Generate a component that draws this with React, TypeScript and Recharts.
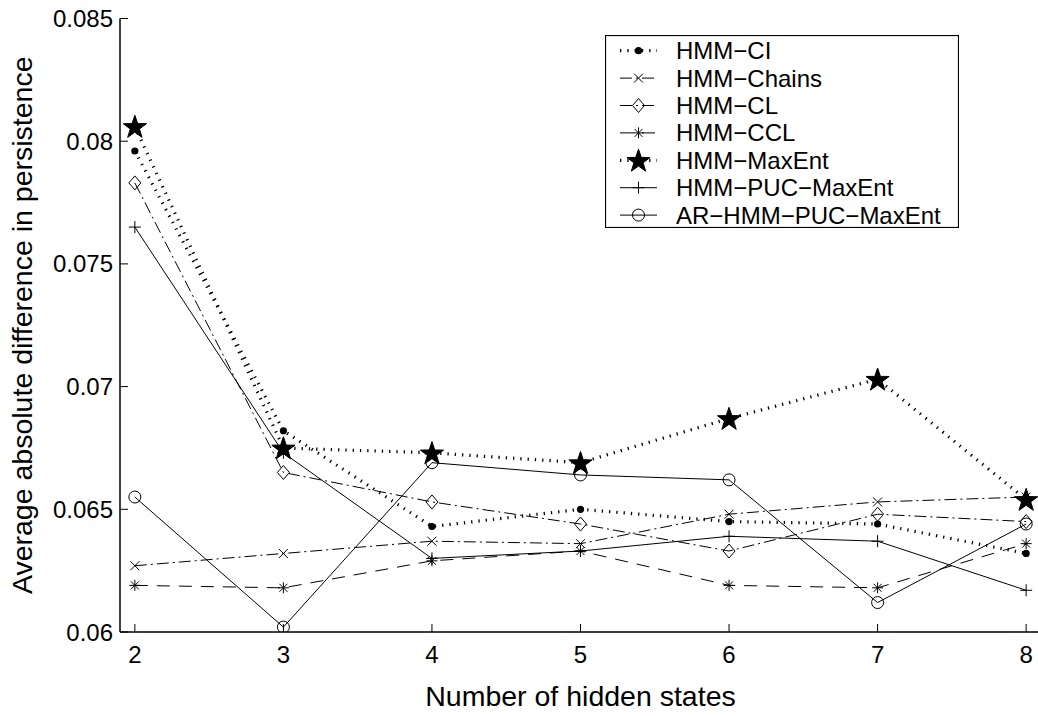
import React from 'react';
import { LineChart, Line, XAxis, YAxis, Legend } from 'recharts';

// ---------- data ----------
const states = [2, 3, 4, 5, 6, 7, 8];
const xTickLabels = ['2', '3', '4', '5', '6', '7', '8'];
const yTicks = [0.06, 0.065, 0.07, 0.075, 0.08, 0.085];
const yTickLabels = ['0.06', '0.065', '0.07', '0.075', '0.08', '0.085'];

const hmmCI = [0.0796, 0.0682, 0.0643, 0.065, 0.0645, 0.0644, 0.0632];
const hmmChains = [0.0627, 0.0632, 0.0637, 0.0636, 0.0648, 0.0653, 0.0655];
const hmmCL = [0.0783, 0.0665, 0.0653, 0.0644, 0.0633, 0.0648, 0.0645];
const hmmCCL = [0.0619, 0.0618, 0.0629, 0.0633, 0.0619, 0.0618, 0.0636];
const hmmMaxEnt = [0.0806, 0.0675, 0.0673, 0.0669, 0.0687, 0.0703, 0.0654];
const hmmPucMaxEnt = [0.0765, 0.0673, 0.063, 0.0633, 0.0639, 0.0637, 0.0617];
const arHmmPucMaxEnt = [0.0655, 0.0602, 0.0669, 0.0664, 0.0662, 0.0612, 0.0644];

const seriesNames = [
  'HMM\u2212CI',
  'HMM\u2212Chains',
  'HMM\u2212CL',
  'HMM\u2212CCL',
  'HMM\u2212MaxEnt',
  'HMM\u2212PUC\u2212MaxEnt',
  'AR\u2212HMM\u2212PUC\u2212MaxEnt',
];

const xTitle = 'Number of hidden states';
const yTitle = 'Average absolute difference in persistence';

// ---------- styles ----------
const FONT = '"Liberation Sans", Arial, Helvetica, sans-serif';
const DOTTED = '1.3 6';
const DASHDOT = '12 4 2 4';
const DASHED = '13 9';

type Kind = 'dot' | 'x' | 'diamond' | 'asterisk' | 'star' | 'plus' | 'circle';

const seriesCfg: { key: string; values: number[]; dash?: string; sw: number; marker: Kind }[] = [
  { key: 'ci', values: hmmCI, dash: DOTTED, sw: 3.2, marker: 'dot' },
  { key: 'chains', values: hmmChains, dash: DASHDOT, sw: 1, marker: 'x' },
  { key: 'cl', values: hmmCL, dash: DASHDOT, sw: 1, marker: 'diamond' },
  { key: 'ccl', values: hmmCCL, dash: DASHED, sw: 1, marker: 'asterisk' },
  { key: 'maxent', values: hmmMaxEnt, dash: DOTTED, sw: 3.2, marker: 'star' },
  { key: 'puc', values: hmmPucMaxEnt, sw: 1, marker: 'plus' },
  { key: 'ar', values: arHmmPucMaxEnt, sw: 1, marker: 'circle' },
];

const data = states.map((k, i) => {
  const row: Record<string, number> = { k };
  seriesCfg.forEach((s) => {
    row[s.key] = s.values[i];
  });
  return row;
});

function starPoints(cx: number, cy: number, R: number, r: number) {
  const pts: string[] = [];
  for (let i = 0; i < 10; i++) {
    const rad = i % 2 === 0 ? R : r;
    const a = -Math.PI / 2 + (i * Math.PI) / 5;
    pts.push(`${cx + rad * Math.cos(a)},${cy + rad * Math.sin(a)}`);
  }
  return pts.join(' ');
}

function Marker({ kind, cx, cy }: { kind: Kind; cx: number; cy: number }) {
  const st = { stroke: '#000', strokeWidth: 1, fill: 'none' };
  switch (kind) {
    case 'dot':
      return <circle cx={cx} cy={cy} r={3.6} fill="#000" />;
    case 'x':
      return (
        <g {...st}>
          <line x1={cx - 4.5} y1={cy - 4.5} x2={cx + 4.5} y2={cy + 4.5} />
          <line x1={cx - 4.5} y1={cy + 4.5} x2={cx + 4.5} y2={cy - 4.5} />
        </g>
      );
    case 'diamond':
      return (
        <polygon
          points={`${cx},${cy - 7} ${cx + 6},${cy} ${cx},${cy + 7} ${cx - 6},${cy}`}
          {...st}
        />
      );
    case 'asterisk':
      return (
        <g {...st}>
          <line x1={cx} y1={cy - 5.5} x2={cx} y2={cy + 5.5} />
          <line x1={cx - 5.5} y1={cy} x2={cx + 5.5} y2={cy} />
          <line x1={cx - 4} y1={cy - 4} x2={cx + 4} y2={cy + 4} />
          <line x1={cx - 4} y1={cy + 4} x2={cx + 4} y2={cy - 4} />
        </g>
      );
    case 'star':
      return <polygon points={starPoints(cx, cy + 1, 12.2, 4.8)} fill="#000" stroke="#000" />;
    case 'plus':
      return (
        <g {...st}>
          <line x1={cx - 6} y1={cy} x2={cx + 6} y2={cy} />
          <line x1={cx} y1={cy - 6} x2={cx} y2={cy + 6} />
        </g>
      );
    case 'circle':
      return <circle cx={cx} cy={cy} r={6} {...st} />;
  }
  return null;
}

// ---------- axis ticks (inward, MATLAB style) ----------
const TICK = 8;

const BottomTick = (p: any) => {
  const idx = states.indexOf(p.payload.value);
  return (
    <g>
      <line x1={p.x} x2={p.x} y1={p.y} y2={p.y - TICK} stroke="#000" strokeWidth={1} />
      <text x={p.x} y={p.y + 31} textAnchor="middle" fontSize={24} fontFamily={FONT} fill="#000">
        {xTickLabels[idx]}
      </text>
    </g>
  );
};

const TopTick = (p: any) => (
  <line x1={p.x} x2={p.x} y1={p.y} y2={p.y + TICK} stroke="#000" strokeWidth={1} />
);

const LeftTick = (p: any) => {
  const idx = yTicks.findIndex((t) => Math.abs(t - p.payload.value) < 1e-9);
  return (
    <g>
      <line x1={p.x} x2={p.x + TICK} y1={p.y} y2={p.y} stroke="#000" strokeWidth={1} />
      <text x={p.x - 7} y={p.y + 8.5} textAnchor="end" fontSize={24} fontFamily={FONT} fill="#000">
        {yTickLabels[idx]}
      </text>
    </g>
  );
};

const RightTick = (p: any) => (
  <line x1={p.x} x2={p.x - TICK} y1={p.y} y2={p.y} stroke="#000" strokeWidth={1} />
);

// ---------- legend ----------
const LEG_W = 354;
const LEG_H = 193;
const LegendBox = () => (
  <svg width={LEG_W} height={LEG_H} style={{ display: 'block' }}>
    <rect x={0.5} y={0.5} width={LEG_W - 1} height={LEG_H - 1} fill="#fff" stroke="#000" strokeWidth={1.2} />
    {seriesCfg.map((s, i) => {
      const cy = 15.7 + i * 27.4;
      return (
        <g key={s.key}>
          <line
            x1={15}
            x2={52}
            y1={cy}
            y2={cy}
            stroke="#000"
            strokeWidth={s.sw}
            strokeDasharray={s.dash}
          />
          <Marker kind={s.marker} cx={33.5} cy={cy} />
          <text x={71} y={cy + 8.5} fontSize={24} fontFamily={FONT} fill="#000">
            {seriesNames[i]}
          </text>
        </g>
      );
    })}
  </svg>
);

export default function App() {
  return (
    <div
      style={{
        position: 'absolute',
        left: 0,
        top: 0,
        width: 1038,
        height: 716,
        overflow: 'hidden',
        background: '#fff',
      }}
    >
      <LineChart
        width={1041}
        height={716}
        data={data}
        margin={{ top: 18.5, right: 0, bottom: 0, left: 0 }}
        style={{ fontFamily: FONT }}
      >
        <XAxis
          xAxisId="bottom"
          dataKey="k"
          type="number"
          domain={[1.9, 8.1]}
          allowDataOverflow
          ticks={states}
          interval={0}
          height={84}
          tickSize={0}
          tickMargin={0}
          tickLine={false}
          axisLine={{ stroke: '#000', strokeWidth: 1.5 }}
          tick={<BottomTick />}
          label={{
            content: (props: any) => {
              const vb = props.viewBox || {};
              return (
                <text
                  x={vb.x + vb.width / 2}
                  y={706}
                  textAnchor="middle"
                  fontSize={28.5}
                  fontFamily={FONT}
                  fill="#000"
                >
                  {xTitle}
                </text>
              );
            },
          }}
        />
        <XAxis
          xAxisId="top"
          orientation="top"
          dataKey="k"
          type="number"
          domain={[1.9, 8.1]}
          allowDataOverflow
          ticks={states}
          interval={0}
          height={0}
          tickSize={0}
          tickMargin={0}
          tickLine={false}
          axisLine={{ stroke: '#000', strokeWidth: 1.5 }}
          tick={<TopTick />}
        />
        <YAxis
          yAxisId="left"
          type="number"
          domain={[0.06, 0.085]}
          allowDataOverflow
          ticks={yTicks}
          interval={0}
          width={120}
          tickSize={0}
          tickMargin={0}
          tickLine={false}
          axisLine={{ stroke: '#000', strokeWidth: 1.5 }}
          tick={<LeftTick />}
          label={{
            content: (props: any) => {
              const vb = props.viewBox || {};
              const cy = vb.y + vb.height / 2;
              return (
                <text
                  x={32}
                  y={cy}
                  transform={`rotate(-90, 32, ${cy})`}
                  textAnchor="middle"
                  fontSize={28.5}
                  fontFamily={FONT}
                  fill="#000"
                >
                  {yTitle}
                </text>
              );
            },
          }}
        />
        <YAxis
          yAxisId="right"
          orientation="right"
          type="number"
          domain={[0.06, 0.085]}
          allowDataOverflow
          ticks={yTicks}
          interval={0}
          width={0}
          tickSize={0}
          tickMargin={0}
          tickLine={false}
          axisLine={{ stroke: '#000', strokeWidth: 1.5 }}
          tick={<RightTick />}
        />
        <Legend
          layout="vertical"
          align="center"
          verticalAlign="middle"
          wrapperStyle={{ position: 'absolute', left: 605, top: 35, width: LEG_W, height: LEG_H }}
          content={() => <LegendBox />}
        />
        {seriesCfg.map((s, i) => (
          <Line
            key={s.key}
            xAxisId="bottom"
            yAxisId="left"
            type="linear"
            dataKey={s.key}
            name={seriesNames[i]}
            stroke="#000"
            strokeWidth={s.sw}
            strokeDasharray={s.dash}
            isAnimationActive={false}
            activeDot={false}
            dot={(p: any) => <Marker key={`${s.key}-${p.index}`} kind={s.marker} cx={p.cx} cy={p.cy} />}
          />
        ))}
      </LineChart>
    </div>
  );
}
